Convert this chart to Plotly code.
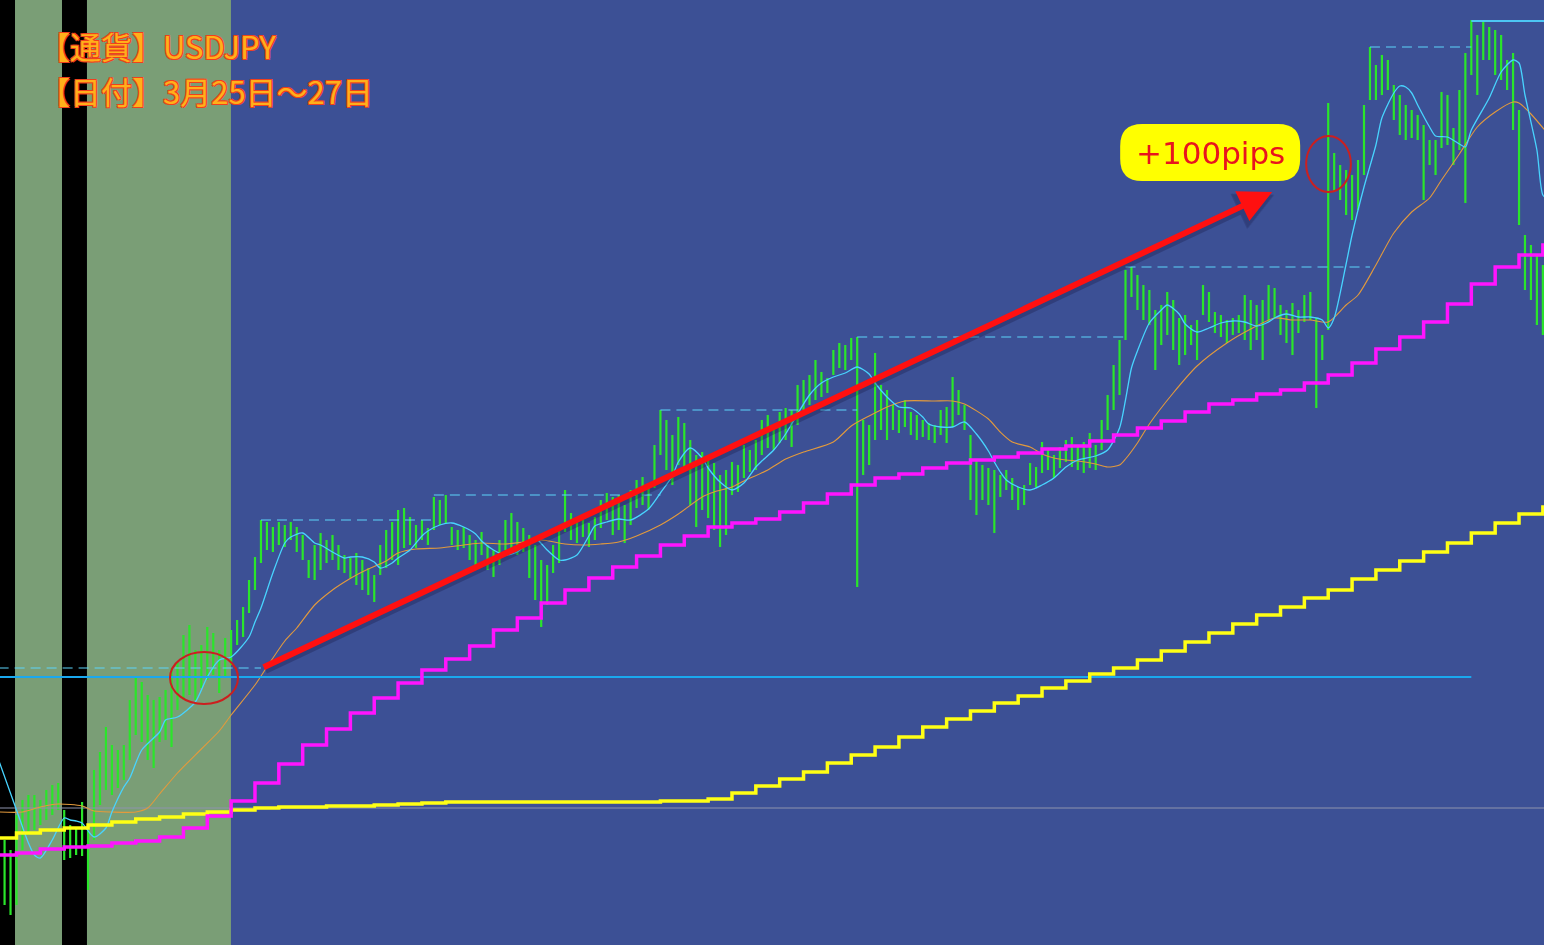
import plotly.graph_objects as go

# ---------------- data (USDJPY, price in yen, x = bar index) ----------------
BAR_HIGH = [
    109.674, 109.654, 109.724, 109.754, 109.764, 109.764, 109.754, 109.774, 109.784, 109.788,
    109.734, 109.704, 109.698, 109.750, 109.704, 109.814, 109.850, 109.900, 109.864, 109.854,
    109.864, 109.954, 109.998, 109.990, 109.964, 109.954, 109.960, 109.974, 110.018, 110.030,
    110.084, 110.104, 110.054, 110.064, 110.100, 110.088, 110.054, 110.078, 110.094, 110.114,
    110.140, 110.194, 110.240, 110.314, 110.310, 110.300, 110.310, 110.304, 110.310, 110.300,
    110.284, 110.234, 110.264, 110.288, 110.274, 110.284, 110.264, 110.244, 110.238, 110.248,
    110.234, 110.218, 110.204, 110.264, 110.294, 110.310, 110.334, 110.338, 110.320, 110.304,
    110.314, 110.298, 110.360, 110.354, 110.364, 110.300, 110.294, 110.300, 110.284, 110.274,
    110.290, 110.264, 110.254, 110.274, 110.314, 110.328, 110.310, 110.298, 110.284, 110.264,
    110.234, 110.224, 110.264, 110.294, 110.374, 110.328, 110.320, 110.314, 110.308, 110.320,
    110.354, 110.368, 110.360, 110.364, 110.344, 110.374, 110.394, 110.400, 110.384, 110.464,
    110.534, 110.514, 110.484, 110.520, 110.508, 110.474, 110.444, 110.450, 110.434, 110.428,
    110.404, 110.414, 110.430, 110.424, 110.464, 110.454, 110.474, 110.514, 110.524, 110.504,
    110.530, 110.538, 110.534, 110.584, 110.594, 110.604, 110.634, 110.610, 110.598, 110.654,
    110.668, 110.664, 110.678, 110.680, 110.514, 110.504, 110.648, 110.584, 110.574, 110.544,
    110.534, 110.554, 110.530, 110.524, 110.514, 110.508, 110.504, 110.534, 110.540, 110.600,
    110.574, 110.544, 110.484, 110.434, 110.424, 110.418, 110.414, 110.404, 110.414, 110.398,
    110.380, 110.384, 110.428, 110.420, 110.470, 110.454, 110.444, 110.460, 110.474, 110.480,
    110.464, 110.470, 110.488, 110.464, 110.514, 110.564, 110.624, 110.674, 110.814, 110.820,
    110.804, 110.784, 110.774, 110.734, 110.744, 110.770, 110.754, 110.718, 110.724, 110.704,
    110.714, 110.784, 110.770, 110.730, 110.724, 110.714, 110.718, 110.724, 110.764, 110.754,
    110.744, 110.754, 110.784, 110.778, 110.744, 110.734, 110.748, 110.734, 110.764, 110.770,
    110.718, 110.684, 111.148, 111.048, 111.024, 111.014, 111.004, 111.034, 111.144, 111.260,
    111.224, 111.244, 111.234, 111.184, 111.164, 111.144, 111.134, 111.124, 111.104, 111.074,
    111.074, 111.170, 111.164, 111.098, 111.174, 111.248, 111.314, 111.284, 111.314, 111.300,
    111.294, 111.284, 111.234, 111.248, 111.134, 110.884, 110.864, 110.844, 110.824,
]
BAR_LOW = [
    109.544, 109.524, 109.544, 109.654, 109.684, 109.694, 109.704, 109.714, 109.724, 109.734,
    109.634, 109.638, 109.644, 109.642, 109.574, 109.674, 109.744, 109.774, 109.764, 109.778,
    109.794, 109.834, 109.884, 109.870, 109.834, 109.818, 109.870, 109.874, 109.860, 109.934,
    109.954, 109.964, 109.954, 109.978, 109.994, 110.004, 109.968, 110.000, 110.024, 110.064,
    110.080, 110.128, 110.174, 110.228, 110.254, 110.250, 110.264, 110.260, 110.274, 110.250,
    110.234, 110.198, 110.194, 110.214, 110.228, 110.234, 110.214, 110.208, 110.198, 110.184,
    110.174, 110.164, 110.150, 110.204, 110.218, 110.234, 110.224, 110.258, 110.264, 110.258,
    110.274, 110.264, 110.294, 110.304, 110.308, 110.264, 110.254, 110.258, 110.234, 110.214,
    110.244, 110.214, 110.200, 110.224, 110.254, 110.258, 110.244, 110.250, 110.198, 110.154,
    110.100, 110.144, 110.208, 110.228, 110.290, 110.274, 110.268, 110.280, 110.260, 110.274,
    110.298, 110.314, 110.284, 110.294, 110.268, 110.304, 110.338, 110.344, 110.334, 110.378,
    110.444, 110.414, 110.384, 110.424, 110.414, 110.344, 110.300, 110.334, 110.318, 110.294,
    110.260, 110.284, 110.364, 110.370, 110.398, 110.410, 110.414, 110.444, 110.458, 110.454,
    110.468, 110.474, 110.460, 110.504, 110.524, 110.544, 110.554, 110.560, 110.568, 110.604,
    110.618, 110.614, 110.634, 110.180, 110.404, 110.424, 110.474, 110.494, 110.474, 110.494,
    110.488, 110.500, 110.484, 110.474, 110.480, 110.474, 110.468, 110.484, 110.468, 110.500,
    110.524, 110.494, 110.354, 110.324, 110.354, 110.344, 110.288, 110.360, 110.374, 110.354,
    110.334, 110.344, 110.384, 110.380, 110.408, 110.414, 110.398, 110.418, 110.430, 110.420,
    110.414, 110.408, 110.418, 110.414, 110.454, 110.494, 110.534, 110.564, 110.674, 110.760,
    110.734, 110.714, 110.704, 110.614, 110.664, 110.684, 110.654, 110.624, 110.644, 110.664,
    110.634, 110.724, 110.710, 110.688, 110.680, 110.668, 110.684, 110.688, 110.674, 110.654,
    110.674, 110.634, 110.710, 110.718, 110.684, 110.668, 110.644, 110.688, 110.710, 110.714,
    110.538, 110.634, 110.694, 110.970, 110.954, 110.924, 110.914, 110.934, 111.004, 111.154,
    111.154, 111.164, 111.174, 111.114, 111.084, 111.074, 111.078, 111.074, 110.954, 111.024,
    111.004, 111.058, 111.064, 111.024, 111.054, 110.948, 111.204, 111.164, 111.234, 111.234,
    111.204, 111.194, 111.174, 111.094, 110.904, 110.774, 110.754, 110.704, 110.684,
]

# fast moving average (cyan), read at selected bars
FAST_MA_BARS = [-1, 2, 4, 5, 6, 8, 10, 11, 12, 13, 15, 17, 18, 20, 21, 23, 26, 27, 29, 32,
                34, 36, 38, 41, 42, 43, 45, 47, 48, 50, 52, 53, 55, 57, 58, 60, 62, 63, 65, 66,
                68, 70, 71, 73, 75, 77, 79, 80, 82, 84, 86, 88, 89, 91, 93, 94, 96, 98, 99, 101,
                103, 105, 108, 110, 112, 113, 115, 117, 118, 120, 122, 124, 126, 127, 129, 131, 132, 135, 137, 139,
                141, 143, 145, 146, 148, 150, 152, 154, 155, 157, 159, 161, 163, 165, 166, 167, 168, 170, 172, 174,
                176, 178, 180, 183, 185, 187, 188, 189, 190, 192, 194, 195, 197, 198, 200, 202, 204, 206, 208, 210,
                212, 213, 215, 217, 219, 221, 222, 223, 225, 226, 228, 230, 231, 233, 234, 235, 236, 237, 239, 240,
                242, 244, 245, 246, 249, 251, 253, 254, 255, 257, 258, 259]
FAST_MA = [109.834, 109.734, 109.668, 109.644, 109.638, 109.674, 109.718, 109.714, 109.712, 109.708,
           109.680, 109.698, 109.730, 109.780, 109.798, 109.854, 109.890, 109.914, 109.920, 109.950,
           110.000, 110.034, 110.040, 110.080, 110.110, 110.138, 110.208, 110.268, 110.280, 110.288,
           110.268, 110.264, 110.250, 110.238, 110.240, 110.240, 110.230, 110.218, 110.228, 110.238,
           110.254, 110.282, 110.292, 110.304, 110.308, 110.300, 110.286, 110.272, 110.254, 110.244,
           110.250, 110.272, 110.278, 110.254, 110.234, 110.234, 110.244, 110.282, 110.302, 110.310,
           110.316, 110.314, 110.336, 110.368, 110.402, 110.430, 110.458, 110.438, 110.418, 110.390,
           110.374, 110.388, 110.420, 110.432, 110.454, 110.486, 110.506, 110.564, 110.588, 110.600,
           110.608, 110.620, 110.606, 110.588, 110.560, 110.540, 110.538, 110.520, 110.506, 110.500,
           110.500, 110.510, 110.486, 110.452, 110.430, 110.410, 110.394, 110.380, 110.374, 110.384,
           110.398, 110.420, 110.434, 110.442, 110.454, 110.498, 110.554, 110.618, 110.652, 110.708,
           110.734, 110.744, 110.726, 110.706, 110.690, 110.698, 110.708, 110.712, 110.710, 110.702,
           110.710, 110.718, 110.726, 110.720, 110.720, 110.714, 110.698, 110.718, 110.826, 110.884,
           110.980, 111.064, 111.118, 111.168, 111.182, 111.180, 111.168, 111.144, 111.100, 111.082,
           111.080, 111.066, 111.060, 111.094, 111.158, 111.210, 111.234, 111.228, 111.164, 111.054,
           110.964, 110.954]

# slow moving average (orange)
SLOW_MA_BARS = [-1, 3, 6, 9, 13, 15, 18, 22, 24, 26, 29, 33, 36, 38, 42, 44, 47, 49, 52, 55,
                57, 59, 61, 64, 66, 69, 73, 77, 80, 84, 87, 90, 94, 97, 100, 103, 106, 110, 113, 117,
                119, 122, 124, 128, 131, 134, 139, 142, 145, 148, 151, 156, 159, 161, 165, 167, 169, 172, 174, 176,
                178, 180, 183, 185, 187, 188, 190, 192, 196, 200, 205, 209, 213, 216, 219, 222, 225, 227, 230, 233,
                236, 239, 241, 244, 247, 250, 253, 254, 256, 259]
SLOW_MA = [109.730, 109.730, 109.740, 109.746, 109.742, 109.732, 109.730, 109.730, 109.738, 109.766,
           109.808, 109.856, 109.892, 109.924, 109.984, 110.020, 110.072, 110.098, 110.144, 110.174,
           110.190, 110.204, 110.216, 110.232, 110.248, 110.256, 110.258, 110.264, 110.268, 110.266,
           110.270, 110.274, 110.266, 110.264, 110.266, 110.270, 110.282, 110.304, 110.326, 110.360,
           110.370, 110.380, 110.392, 110.414, 110.436, 110.450, 110.470, 110.502, 110.522, 110.540,
           110.552, 110.552, 110.552, 110.546, 110.516, 110.490, 110.470, 110.460, 110.446, 110.438,
           110.434, 110.432, 110.426, 110.420, 110.424, 110.436, 110.468, 110.506, 110.568, 110.622,
           110.668, 110.696, 110.718, 110.714, 110.714, 110.710, 110.744, 110.764, 110.824, 110.888,
           110.930, 110.958, 110.994, 111.046, 111.100, 111.130, 111.150, 111.148, 111.126, 111.084]

# step indicators: one level per 4-bar block (first block starts before the chart)
STEP_START_BARS = [-1] + list(range(2, 259, 4))
MAGENTA_STEPS = [109.644, 109.648, 109.656, 109.660, 109.662, 109.668, 109.672, 109.680, 109.698, 109.722,
                 109.752, 109.788, 109.826, 109.864, 109.896, 109.928, 109.958, 109.988, 110.014, 110.036,
                 110.062, 110.094, 110.118, 110.148, 110.174, 110.198, 110.220, 110.242, 110.264, 110.282,
                 110.300, 110.308, 110.316, 110.330, 110.348, 110.366, 110.384, 110.398, 110.406, 110.418,
                 110.428, 110.434, 110.440, 110.448, 110.456, 110.462, 110.472, 110.484, 110.498, 110.512,
                 110.530, 110.546, 110.554, 110.566, 110.574, 110.588, 110.604, 110.628, 110.656, 110.680,
                 110.710, 110.746, 110.786, 110.820, 110.844, 110.864]
YELLOW_STEPS = [109.678, 109.688, 109.694, 109.698, 109.704, 109.710, 109.716, 109.720, 109.726, 109.730,
                109.734, 109.738, 109.740, 109.740, 109.742, 109.742, 109.744, 109.746, 109.748, 109.750,
                109.750, 109.750, 109.750, 109.750, 109.750, 109.750, 109.750, 109.750, 109.752, 109.752,
                109.756, 109.768, 109.782, 109.796, 109.810, 109.828, 109.844, 109.860, 109.880, 109.900,
                109.916, 109.932, 109.948, 109.962, 109.978, 109.992, 110.006, 110.018, 110.034, 110.052,
                110.070, 110.088, 110.106, 110.124, 110.140, 110.158, 110.174, 110.196, 110.214, 110.232,
                110.250, 110.268, 110.288, 110.308, 110.326, 110.340]

# running high levels (dashed), each holds until the next start
HIGH_LEVEL_BARS = [-1, 43, 72, 110, 143, 188, 229, 246]
HIGH_LEVELS = [110.018, 110.314, 110.364, 110.534, 110.680, 110.820, 111.260, 111.312]

ENTRY_PRICE = 110.000
ENTRY_LINE_END = 246
REF_PRICE = 109.738
LAST_BAR = 259

# session shading (bar ranges)
CLOSED_BANDS = [(-1.0, 1.75), (9.63, 13.82)]
OPEN_BANDS = [(1.75, 9.63), (13.82, 37.97)]

TITLE_LINES = ["【通貨】USDJPY", "【日付】3月25日～27日"]
GAIN_LABEL = "+100pips"

# ---------------- figure ----------------
fig = go.Figure()

bx, by = [], []
for i, (h, l) in enumerate(zip(BAR_HIGH, BAR_LOW)):
    bx += [i, i, None]
    by += [l, h, None]
fig.add_trace(go.Scatter(x=bx, y=by, mode="lines", line=dict(color="#2ae62a", width=2.2),
                         hoverinfo="skip", showlegend=False))

# reference horizontal line
fig.add_trace(go.Scatter(x=[-1, LAST_BAR], y=[REF_PRICE, REF_PRICE], mode="lines",
                         line=dict(color="#8e93ad", width=1), showlegend=False))

# dashed high levels (horizontal segments only); the latest one is solid
hx, hy = [], []
for k in range(len(HIGH_LEVELS) - 1):
    hx += [HIGH_LEVEL_BARS[k], HIGH_LEVEL_BARS[k + 1], None]
    hy += [HIGH_LEVELS[k], HIGH_LEVELS[k], None]
fig.add_trace(go.Scatter(x=hx, y=hy, mode="lines",
                         line=dict(color="#5cd4fa", width=1.2, dash="10px,6px"), showlegend=False))
fig.add_trace(go.Scatter(x=[HIGH_LEVEL_BARS[-1], LAST_BAR], y=[HIGH_LEVELS[-1], HIGH_LEVELS[-1]],
                         mode="lines", line=dict(color="#4cc6f4", width=2), showlegend=False))

# moving averages
fig.add_trace(go.Scatter(x=SLOW_MA_BARS, y=SLOW_MA, mode="lines",
                         line=dict(color="#e39a3c", width=1.1, shape="spline", smoothing=0.7),
                         showlegend=False))
fig.add_trace(go.Scatter(x=FAST_MA_BARS, y=FAST_MA, mode="lines",
                         line=dict(color="#48d4ff", width=1.3, shape="spline", smoothing=0.7),
                         showlegend=False))

# entry line
fig.add_trace(go.Scatter(x=[-1, ENTRY_LINE_END], y=[ENTRY_PRICE, ENTRY_PRICE], mode="lines",
                         line=dict(color="#1aa8ee", width=2), showlegend=False))

# step lines
sx = STEP_START_BARS + [LAST_BAR + 1]
fig.add_trace(go.Scatter(x=sx, y=YELLOW_STEPS + [YELLOW_STEPS[-1]], mode="lines", line_shape="hv",
                         line=dict(color="#ffff14", width=3.5), showlegend=False))
fig.add_trace(go.Scatter(x=sx, y=MAGENTA_STEPS + [MAGENTA_STEPS[-1]], mode="lines", line_shape="hv",
                         line=dict(color="#ff14ff", width=3.5), showlegend=False))

shapes = []
for a, b in CLOSED_BANDS:
    shapes.append(dict(type="rect", xref="x", yref="paper", x0=a, x1=b, y0=0, y1=1,
                       fillcolor="#000000", line=dict(width=0), layer="below"))
for a, b in OPEN_BANDS:
    shapes.append(dict(type="rect", xref="x", yref="paper", x0=a, x1=b, y0=0, y1=1,
                       fillcolor="#7a9e76", line=dict(width=0), layer="below"))
# red circles
shapes.append(dict(type="circle", xref="x", yref="y", x0=27.75, x1=39.15, y0=109.946, y1=110.050,
                   line=dict(color="#cc1f1f", width=2)))
shapes.append(dict(type="circle", xref="x", yref="y", x0=218.3, x1=225.8, y0=110.970, y1=111.082,
                   line=dict(color="#cc1f1f", width=2)))
# yellow rounded label box
shapes.append(dict(type="path", xref="x", yref="y", xsizemode="pixel", ysizemode="pixel",
                   xanchor=202.2, yanchor=111.049,
                   path="M -68,-28.5 L 68,-28.5 Q 90,-28.5 90,-6.5 L 90,6.5 Q 90,28.5 68,28.5 "
                        "L -68,28.5 Q -90,28.5 -90,6.5 L -90,-6.5 Q -90,-28.5 -68,-28.5 Z",
                   fillcolor="#ffff00", line=dict(width=0)))

outline = "#f0401c"
shadow = ", ".join(f"{dx_}px {dy_}px 0 {outline}" for dx_, dy_ in
                   [(1, 1), (-1, -1), (1, -1), (-1, 1)])

annotations = [
    # arrow shadow
    dict(x=212.9, y=110.964, ax=43.5, ay=110.012, xref="x", yref="y", axref="x", ayref="y",
         text="", showarrow=True, arrowhead=2, arrowsize=1.1, arrowwidth=7,
         arrowcolor="rgba(20,20,60,0.28)"),
    dict(x=212.6, y=110.970, ax=43.2, ay=110.018, xref="x", yref="y", axref="x", ayref="y",
         text="", showarrow=True, arrowhead=2, arrowsize=1.1, arrowwidth=6, arrowcolor="#ff1010"),
    dict(x=202.2, y=111.049, xref="x", yref="y", text=GAIN_LABEL, showarrow=False,
         font=dict(family="DejaVu Sans", size=31, color="#e8141e")),
    dict(x=37 / 1544, y=1 - 45 / 945, xref="paper", yref="paper", xanchor="left", yanchor="middle",
         text=TITLE_LINES[0], showarrow=False,
         font=dict(family="Noto Sans CJK JP", size=31, color="#ffb01a", shadow=shadow)),
    dict(x=37 / 1544, y=1 - 90.5 / 945, xref="paper", yref="paper", xanchor="left", yanchor="middle",
         text=TITLE_LINES[1], showarrow=False,
         font=dict(family="Noto Sans CJK JP", size=31, color="#ffb01a", shadow=shadow)),
]

fig.update_layout(
    width=1544, height=945, autosize=False,
    margin=dict(l=0, r=0, t=0, b=0, pad=0),
    plot_bgcolor="#3c5095", paper_bgcolor="#3c5095",
    xaxis=dict(range=[-0.767, 258.19], visible=False, fixedrange=True),
    yaxis=dict(range=[109.464, 111.354], visible=False, fixedrange=True),
    shapes=shapes, annotations=annotations, showlegend=False,
)

fig.write_html("out.html", config={"displayModeBar": False},
               post_script="document.body.style.margin='0';document.body.style.overflow='hidden';")
